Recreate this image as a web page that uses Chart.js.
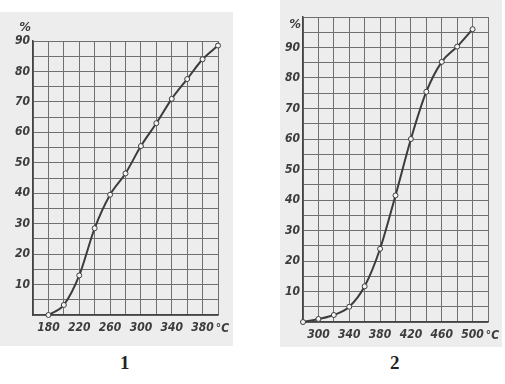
<!DOCTYPE html>
<html>
<head>
<meta charset="utf-8">
<script src="https://cdn.jsdelivr.net/npm/chart.js@4/dist/chart.umd.min.js"></script>
<style>
  body { margin: 0; background: #fff; width: 505px; height: 384px; position: relative; overflow: hidden; }
  .paper { position: absolute; background: #ededed; }
  .box { position: absolute; }
  .cap { position: absolute; top: 352px; font: bold 19px "Liberation Serif", serif; color: #222; }
</style>
</head>
<body>
<div class="paper" style="left:0;top:12px;width:233px;height:334px"></div>
<div class="paper" style="left:280px;top:0;width:222px;height:347px"></div>
<div class="box" style="left:0;top:0;width:240px;height:350px"><canvas id="chart1"></canvas></div>
<div class="box" style="left:270px;top:0;width:235px;height:350px"><canvas id="chart2"></canvas></div>
<div class="cap" style="left:120px">1</div>
<div class="cap" style="left:390px">2</div>
<script>
// graph 1
var temp1 = [180, 200, 220, 240, 260, 280, 300, 320, 340, 360, 380, 400];
var pct1 = [0, 3.3, 13, 28.5, 39.5, 46.5, 55.5, 63, 71, 77.5, 84, 88.5];
// graph 2
var temp2 = [280, 300, 320, 340, 360, 380, 400, 420, 440, 460, 480, 500];
var pct2 = [0, 1, 2.3, 5, 11.7, 24, 41.5, 60, 75.5, 85.3, 90.3, 96];

var ink = '#3c3c3c';
var fontFamily = '"Liberation Sans Narrow", "DejaVu Sans Condensed", sans-serif';
var labelFont = { family: fontFamily, size: 12, style: 'italic', weight: 'bold' };

var extraText = {
    id: 'extraText',
    afterDraw: function(chart, args, opts) {
        var ctx = chart.ctx;
        var area = chart.chartArea;
        ctx.save();
        ctx.fillStyle = ink;
        ctx.font = 'italic bold 12px ' + fontFamily;
        ctx.textBaseline = 'middle';
        ctx.textAlign = 'left';
        // °C sits just right of the last x label
        var half = ctx.measureText(String(opts.lastTick)).width / 2;
        ctx.fillText('°C', chart.scales.x.getPixelForValue(opts.lastTick) + half + 2, area.bottom + 14);
        ctx.font = 'italic bold 13px ' + fontFamily;
        ctx.textAlign = 'right';
        ctx.fillText('%', area.left - 2, area.top + opts.pctDy);
        ctx.restore();
    }
};

function makeGraph(id, xs, ys, xmin, xmax, ymax, firstTick, opts) {
    var points = [];
    for (var i = 0; i < xs.length; i++) {
        points.push({ x: xs[i], y: ys[i] });
    }
    var config = {
        type: 'line',
        plugins: [extraText],
        data: {
            datasets: [{
                data: points,
                borderColor: ink,
                borderWidth: 2,
                cubicInterpolationMode: 'monotone',
                pointRadius: 2.5,
                pointBackgroundColor: '#f4f4f4',
                pointBorderColor: ink,
                pointBorderWidth: 1,
                clip: false
            }]
        },
        options: {
            responsive: true,
            maintainAspectRatio: false,
            animation: false,
            layout: { padding: { top: opts.top, right: opts.right, left: 0, bottom: 0 } },
            plugins: {
                legend: { display: false },
                tooltip: { enabled: false },
                extraText: opts
            },
            scales: {
                x: {
                    type: 'linear',
                    min: xmin,
                    max: xmax,
                    afterFit: function(scale) { scale.height = opts.xh; },
                    ticks: {
                        stepSize: 20,
                        autoSkip: false,
                        maxRotation: 0,
                        padding: 6,
                        color: ink,
                        font: labelFont,
                        callback: function(v) {
                            return (v >= firstTick && v <= opts.lastTick && (v - firstTick) % 40 === 0) ? String(v) : '';
                        }
                    },
                    grid: { color: '#707070', lineWidth: 1, drawTicks: false },
                    border: { color: '#444', width: 1.5 }
                },
                y: {
                    min: 0,
                    max: ymax,
                    afterFit: function(scale) { scale.width = 33; },
                    ticks: {
                        stepSize: 5,
                        autoSkip: false,
                        padding: 3,
                        color: ink,
                        font: labelFont,
                        callback: function(v) {
                            return (v > 0 && v <= 90 && v % 10 === 0) ? String(v) : '';
                        }
                    },
                    grid: { color: '#707070', lineWidth: 1, drawTicks: false },
                    border: { color: '#444', width: 1.5 }
                }
            }
        }
    };
    var ctx = document.getElementById(id).getContext('2d');
    return new Chart(ctx, config);
}

makeGraph('chart1', temp1, pct1, 160, 400, 90, 180,
    { top: 41, right: 22, xh: 35, lastTick: 380, pctDy: -13 });
makeGraph('chart2', temp2, pct2, 280, 520, 100, 300,
    { top: 17, right: 17, xh: 28, lastTick: 500, pctDy: 8 });
</script>
</body>
</html>
